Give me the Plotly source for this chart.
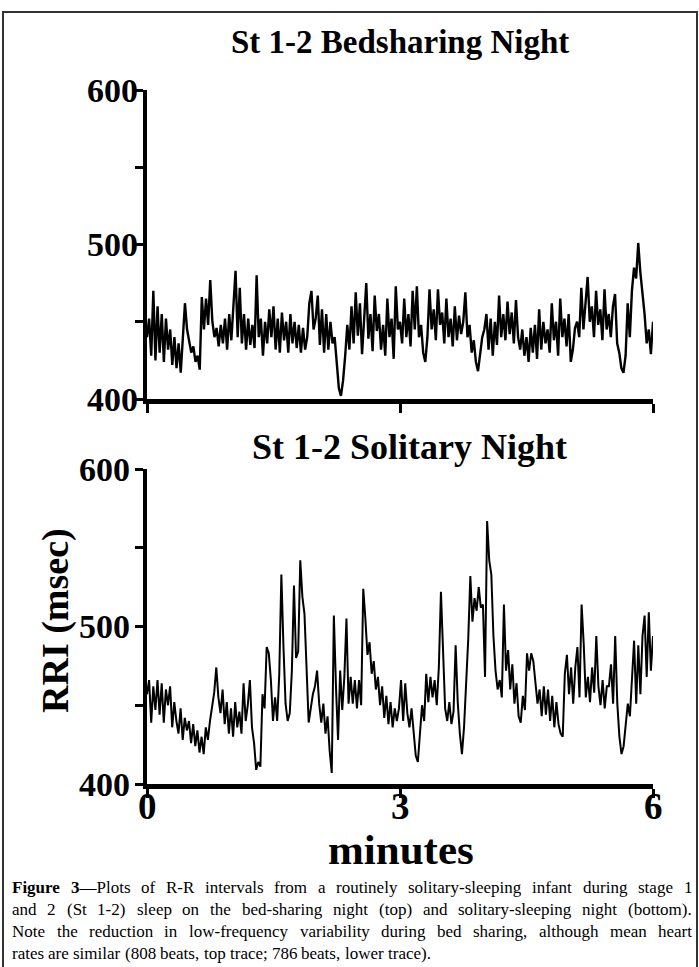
import numpy as np
import plotly.graph_objects as go

# ---------------- data ----------------
# R-R intervals (msec), bed-sharing night (top trace)
rri_bedsharing = [
    440, 452, 428, 470, 425, 460, 430, 455, 424, 452,
    432, 445, 422, 440, 420, 436, 417, 440, 462, 445,
    438, 430, 434, 424, 428, 419, 466, 445, 465, 448,
    477, 450, 440, 446, 434, 448, 436, 452, 432, 455,
    438, 460, 483, 440, 472, 436, 455, 432, 452, 435,
    448, 433, 480, 440, 452, 428, 450, 436, 458, 440,
    460, 432, 452, 430, 456, 438, 450, 430, 455, 436,
    450, 433, 448, 430, 446, 432, 440, 462, 470, 445,
    452, 467, 435, 458, 430, 455, 432, 450, 436, 440,
    420, 407, 402, 412, 428, 448, 432, 460, 436, 469,
    441, 462, 429, 450, 475, 439, 455, 431, 467, 444,
    455, 432, 448, 428, 465, 440, 452, 426, 473, 445,
    450, 436, 465, 440, 455, 434, 470, 445, 473, 440,
    448, 430, 424, 440, 471, 445, 458, 438, 471, 448,
    456, 436, 465, 440, 452, 434, 460, 438, 454, 442,
    450, 469, 440, 448, 430, 438, 424, 418, 428, 440,
    445, 455, 432, 452, 428, 450, 435, 467, 440, 455,
    438, 463, 442, 456, 436, 464, 440, 432, 445, 428,
    440, 424, 446, 430, 448, 426, 458, 432, 450, 436,
    445, 430, 462, 438, 450, 428, 465, 440, 452, 434,
    455, 424, 432, 446, 450, 440, 472, 445, 462, 479,
    450, 460, 440, 470, 448, 458, 438, 471, 445, 455,
    440, 460, 468, 436, 430, 420, 417, 428, 462, 440,
    470, 485, 478, 501, 482, 470, 455, 436, 445, 429, 450,
]

# R-R intervals (msec), solitary night (bottom trace)
rri_solitary = [
    457, 466, 439, 462, 447, 466, 444, 464, 439, 460,
    450, 462, 436, 452, 440, 432, 448, 428, 442, 434,
    440, 426, 438, 424, 434, 420, 430, 419, 436, 428,
    440, 450, 458, 474, 455, 445, 460, 438, 452, 432,
    448, 430, 452, 436, 446, 432, 464, 440, 450, 466,
    436, 426, 409, 414, 411, 457, 448, 487, 483, 466,
    440, 455, 440, 470, 533, 487, 451, 440, 445, 472,
    526, 480, 484, 542, 519, 508, 466, 439, 448, 457,
    462, 472, 451, 439, 451, 432, 443, 421, 407, 507,
    462, 428, 472, 447, 468, 505, 451, 468, 451, 466,
    448, 466, 450, 524, 505, 482, 490, 470, 478, 460,
    468, 450, 462, 442, 456, 438, 452, 436, 448, 440,
    448, 466, 440, 464, 445, 436, 448, 430, 418, 414,
    430, 450, 440, 470, 452, 468, 455, 466, 450, 474,
    522, 480, 448, 440, 452, 438, 446, 488, 452, 432,
    419, 436, 462, 492, 532, 503, 518, 510, 525, 512,
    514, 468, 567, 542, 533, 494, 472, 460, 466, 455,
    514, 472, 485, 460, 476, 451, 464, 443, 439, 456,
    447, 483, 472, 483, 478, 462, 451, 460, 443, 462,
    444, 460, 440, 456, 436, 452, 438, 432, 430, 470,
    482, 457, 474, 451, 474, 487, 455, 514, 489, 455,
    468, 452, 474, 458, 494, 462, 450, 466, 448, 462,
    462, 476, 451, 494, 451, 430, 419, 424, 436, 451,
    443, 472, 491, 451, 488, 457, 494, 507, 468, 509, 472, 494,
]

duration_min = 6
x_ticks = [0, 3, 6]
x_ticktext = ["0", "3", "6"]
y_ticks = [400, 450, 500, 550, 600]
y_labelled = [400, 500, 600]

title_top = "St 1-2 Bedsharing Night"
title_bottom = "St 1-2 Solitary Night"
x_title = "minutes"
y_title = "RRI (msec)"
caption_lines = [
    "Figure 3—Plots of R-R intervals from a routinely solitary-sleeping infant during stage 1",
    "and 2 (St 1-2) sleep on the bed-sharing night (top) and solitary-sleeping night (bottom).",
    "Note the reduction in low-frequency variability during bed sharing, although mean heart",
    "rates are similar (808 beats, top trace; 786 beats, lower trace).",
]
caption_bold = "Figure 3"

# ---------------- figure ----------------
W, H = 699, 967
FONT = "Liberation Serif, Times New Roman, serif"


def fx(x):
    return x / W


def fy(y):
    return 1 - y / H


t_top = np.linspace(0, duration_min, len(rri_bedsharing))
t_bot = np.linspace(0, duration_min, len(rri_solitary))

fig = go.Figure()
fig.add_trace(go.Scatter(x=t_top, y=rri_bedsharing, mode="lines",
                         line=dict(color="black", width=2.4),
                         xaxis="x", yaxis="y", hoverinfo="skip"))
fig.add_trace(go.Scatter(x=t_bot, y=rri_solitary, mode="lines",
                         line=dict(color="black", width=2.0),
                         xaxis="x2", yaxis="y2", hoverinfo="skip"))

xdom = [fx(147), fx(653)]
common_x = dict(range=[0, duration_min], tickvals=x_ticks, ticks="outside",
                ticklen=9, tickwidth=2.5, tickcolor="black",
                showline=True, linewidth=5, linecolor="black",
                showgrid=False, zeroline=False, domain=xdom, automargin=False,
                showticklabels=False)
common_y = dict(range=[400, 600], tickvals=y_ticks,
                ticks="outside", ticklen=8, tickwidth=2.5, tickcolor="black",
                showline=True, linewidth=4, linecolor="black",
                showgrid=False, zeroline=False, automargin=False,
                showticklabels=False)

fig.update_layout(
    template="none",
    width=W, height=H,
    margin=dict(l=0, r=0, t=0, b=0, pad=0, autoexpand=False),
    paper_bgcolor="white", plot_bgcolor="white",
    showlegend=False,
    xaxis=dict(**common_x, anchor="y"),
    yaxis=dict(**common_y, anchor="x", domain=[fy(399), fy(90)]),
    xaxis2=dict(**common_x, anchor="y2"),
    yaxis2=dict(**common_y, anchor="x2", domain=[fy(784), fy(469)]),
)


def bold_font(s):
    return dict(family=FONT, size=s, color="black", weight="bold")


ann = []
# tick labels placed through the axes' own scales
for v in y_labelled:
    ann.append(dict(text=str(v), x=fx(140), xref="paper", y=v, yref="y",
                    xanchor="right", yanchor="middle", showarrow=False,
                    font=bold_font(34)))
    ann.append(dict(text=str(v), x=fx(132), xref="paper", y=v, yref="y2",
                    xanchor="right", yanchor="middle", showarrow=False,
                    font=bold_font(34)))
for v, s in zip(x_ticks, x_ticktext):
    ann.append(dict(text=s, x=v, xref="x2", y=fy(806), yref="paper",
                    xanchor="center", yanchor="middle", showarrow=False,
                    font=bold_font(37)))

ann.append(dict(text=title_top, x=fx(400), y=fy(42), xref="paper", yref="paper",
                showarrow=False, xanchor="center", yanchor="middle",
                font=bold_font(33)))
ann.append(dict(text=title_bottom, x=fx(409), y=fy(447), xref="paper", yref="paper",
                showarrow=False, xanchor="center", yanchor="middle",
                font=bold_font(36)))
ann.append(dict(text=x_title, x=fx(401), y=fy(849), xref="paper", yref="paper",
                showarrow=False, xanchor="center", yanchor="middle",
                font=bold_font(43)))
ann.append(dict(text=y_title, x=fx(55), y=fy(621), xref="paper", yref="paper",
                showarrow=False, xanchor="center", yanchor="middle", textangle=-90,
                font=bold_font(38)))

# ---- justified caption (Times metrics, 1/1000 em) ----
TR = {' ': 250, 'a': 444, 'b': 500, 'c': 444, 'd': 500, 'e': 444, 'f': 333, 'g': 500,
      'h': 500, 'i': 278, 'j': 278, 'k': 500, 'l': 278, 'm': 778, 'n': 500, 'o': 500,
      'p': 500, 'q': 500, 'r': 333, 's': 389, 't': 278, 'u': 500, 'v': 500, 'w': 722,
      'x': 500, 'y': 500, 'z': 444, 'A': 722, 'B': 667, 'C': 667, 'D': 722, 'E': 611,
      'F': 556, 'G': 722, 'H': 722, 'I': 333, 'J': 389, 'K': 722, 'L': 611, 'M': 889,
      'N': 722, 'O': 722, 'P': 556, 'Q': 722, 'R': 667, 'S': 556, 'T': 611, 'U': 722,
      'V': 722, 'W': 944, 'X': 722, 'Y': 722, 'Z': 611, '(': 333, ')': 333, ',': 250,
      '.': 250, '-': 333, ';': 278, ':': 278, '—': 1000}
TB = {'F': 611, 'i': 278, 'g': 500, 'u': 556, 'r': 444, 'e': 444, ' ': 250, '3': 500}
CAP_SIZE = 17
CAP_L, CAP_R = 10, 690


def text_w(s, bold_n=0):
    w = 0
    for k, ch in enumerate(s):
        w += TB.get(ch, 500) if k < bold_n else TR.get(ch, 500)
    return w * CAP_SIZE / 1000


for li, line in enumerate(caption_lines):
    y = fy(887 + 22 * li)
    words = line.split(" ")
    items = []
    consumed = 0
    for w in words:
        start = line.index(w, consumed)
        consumed = start + len(w)
        nb = max(0, min(len(w), len(caption_bold) - start)) if li == 0 else 0
        txt = ("<b>" + w[:nb] + "</b>" + w[nb:]) if nb > 0 else w
        items.append((txt, text_w(w, nb)))
    total = sum(wd for _, wd in items)
    if li < len(caption_lines) - 1 and len(items) > 1:
        gap = (CAP_R - CAP_L - total) / (len(items) - 1)
    else:
        gap = TR[' '] * CAP_SIZE / 1000
    xpos = CAP_L
    for txt, wd in items:
        ann.append(dict(text=txt, x=fx(xpos), y=y, xref="paper", yref="paper",
                        showarrow=False, xanchor="left", yanchor="middle",
                        font=dict(family=FONT, size=CAP_SIZE, color="black")))
        xpos += wd + gap

fig.update_layout(annotations=ann)

# outer frame
fig.add_shape(type="rect", xref="paper", yref="paper",
              x0=fx(3), x1=fx(697), y0=fy(975), y1=fy(12),
              line=dict(color="#333333", width=2), fillcolor="rgba(0,0,0,0)")

fig.write_html("out.html", config={"displayModeBar": False},
               post_script="document.body.style.margin='0px';")
